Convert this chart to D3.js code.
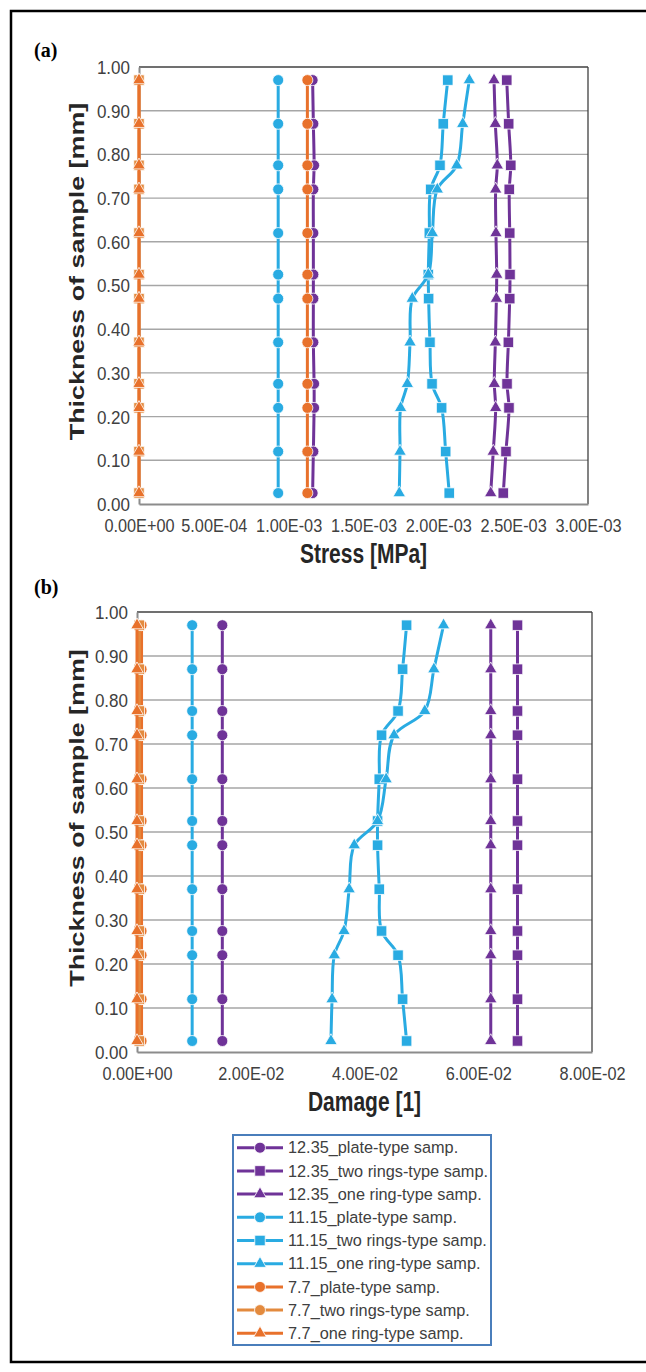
<!DOCTYPE html>
<html>
<head>
<meta charset="utf-8">
<script src="https://cdn.jsdelivr.net/npm/d3@7"></script>
<style>
  body { margin: 0; background: #fff; overflow: hidden; }
  svg { display: block; }
</style>
</head>
<body>
<svg id="fig" width="646" height="1372" font-family="'Liberation Sans', Arial, sans-serif"></svg>
<script>
// thickness levels [mm], bottom to top
const thickness = [0.025, 0.12, 0.22, 0.275, 0.37, 0.47, 0.525, 0.62, 0.72, 0.775, 0.87, 0.97];
const yTicks = [0, 0.1, 0.2, 0.3, 0.4, 0.5, 0.6, 0.7, 0.8, 0.9, 1.0];

const stressTicks = [0, 0.0005, 0.001, 0.0015, 0.002, 0.0025, 0.003];
const damageTicks = [0, 0.02, 0.04, 0.06, 0.08];

const seriesNames = [
  "12.35_plate-type samp.", "12.35_two rings-type samp.", "12.35_one ring-type samp.",
  "11.15_plate-type samp.", "11.15_two rings-type samp.", "11.15_one ring-type samp.",
  "7.7_plate-type samp.", "7.7_two rings-type samp.", "7.7_one ring-type samp."
];
const seriesColors = ["#6f3398", "#6f3398", "#6f3398", "#29abe2", "#29abe2", "#29abe2", "#e8712b", "#e38a3e", "#e8712b"];
const seriesShapes = ["circle", "square", "triangle", "circle", "square", "triangle", "circle", "square", "triangle"];
const legendShapes = ["circle", "square", "triangle", "circle", "square", "triangle", "circle", "circle", "triangle"];

// (a) stress [MPa]
const stress1235Plate = [1.16e-3, 1.165e-3, 1.17e-3, 1.17e-3, 1.165e-3, 1.165e-3, 1.165e-3, 1.165e-3, 1.165e-3, 1.17e-3, 1.165e-3, 1.16e-3];
const stress1235Two = [2.434e-3, 2.452e-3, 2.472e-3, 2.459e-3, 2.468e-3, 2.477e-3, 2.479e-3, 2.477e-3, 2.474e-3, 2.484e-3, 2.470e-3, 2.457e-3];
const stress1235One = [2.350e-3, 2.367e-3, 2.383e-3, 2.374e-3, 2.381e-3, 2.388e-3, 2.390e-3, 2.385e-3, 2.383e-3, 2.394e-3, 2.381e-3, 2.372e-3];
const stress1115Plate = [0.93e-3, 0.93e-3, 0.93e-3, 0.93e-3, 0.93e-3, 0.93e-3, 0.93e-3, 0.93e-3, 0.93e-3, 0.93e-3, 0.93e-3, 0.93e-3];
const stress1115Two = [2.073e-3, 2.049e-3, 2.022e-3, 1.958e-3, 1.944e-3, 1.935e-3, 1.933e-3, 1.940e-3, 1.949e-3, 2.011e-3, 2.033e-3, 2.063e-3];
const stress1115One = [1.739e-3, 1.744e-3, 1.748e-3, 1.793e-3, 1.811e-3, 1.826e-3, 1.933e-3, 1.960e-3, 1.993e-3, 2.123e-3, 2.163e-3, 2.207e-3];
const stress77Plate = [1.125e-3, 1.125e-3, 1.125e-3, 1.125e-3, 1.125e-3, 1.125e-3, 1.125e-3, 1.125e-3, 1.125e-3, 1.125e-3, 1.125e-3, 1.125e-3];
const stress77Two = [0, 0, 0, 0, 0, 0, 0, 0, 0, 0, 0, 0];
const stress77One = [0, 0, 0, 0, 0, 0, 0, 0, 0, 0, 0, 0];

// (b) damage [1]
const damage1235Plate = [0.0150, 0.0150, 0.0150, 0.0150, 0.0150, 0.0150, 0.0150, 0.0150, 0.0150, 0.0150, 0.0150, 0.0150];
const damage1235Two = [0.0669, 0.0669, 0.0669, 0.0669, 0.0669, 0.0669, 0.0669, 0.0669, 0.0669, 0.0669, 0.0669, 0.0669];
const damage1235One = [0.0622, 0.0622, 0.0622, 0.0622, 0.0622, 0.0622, 0.0622, 0.0622, 0.0622, 0.0622, 0.0622, 0.0622];
const damage1115Plate = [0.0097, 0.0097, 0.0097, 0.0097, 0.0097, 0.0097, 0.0097, 0.0097, 0.0097, 0.0097, 0.0097, 0.0097];
const damage1115Two = [0.0474, 0.0467, 0.0459, 0.0430, 0.0426, 0.0423, 0.0423, 0.0426, 0.0430, 0.0459, 0.0467, 0.0474];
const damage1115One = [0.0341, 0.0343, 0.0347, 0.0364, 0.0373, 0.0382, 0.0423, 0.0438, 0.0452, 0.0506, 0.0522, 0.0539];
const damage77Plate = [0.0008, 0.0008, 0.0008, 0.0008, 0.0008, 0.0008, 0.0008, 0.0008, 0.0008, 0.0008, 0.0008, 0.0008];
const damage77Two = [0.0004, 0.0004, 0.0004, 0.0004, 0.0004, 0.0004, 0.0004, 0.0004, 0.0004, 0.0004, 0.0004, 0.0004];
const damage77One = [0, 0, 0, 0, 0, 0, 0, 0, 0, 0, 0, 0];

const stressSeries = [stress1235Plate, stress1235Two, stress1235One, stress1115Plate, stress1115Two, stress1115One, stress77Plate, stress77Two, stress77One];
const damageSeries = [damage1235Plate, damage1235Two, damage1235One, damage1115Plate, damage1115Two, damage1115One, damage77Plate, damage77Two, damage77One];

const svg = d3.select("#fig");

const symbolType = { circle: d3.symbolCircle, square: d3.symbolSquare, triangle: d3.symbolTriangle };
const symbolSize = { circle: 95, square: 110, triangle: 68 };

// excel style exponent labels, e.g. 5.00E-04
function fmtE(d) {
  const parts = d.toExponential(2).split("e");
  const n = +parts[1];
  return parts[0] + "E" + (n < 0 ? "-" : "+") + String(Math.abs(n)).padStart(2, "0");
}

// outer frame of the figure (right side runs off the page)
svg.append("rect")
  .attr("x", 11).attr("y", 11)
  .attr("width", 700).attr("height", 1351)
  .attr("fill", "none").attr("stroke", "#000").attr("stroke-width", 2.5);

function drawPanel(p) {
  const x = d3.scaleLinear().domain([0, p.xMax]).range([p.left, p.right]);
  const y = d3.scaleLinear().domain([0, 1]).range([p.bottom, p.top]);
  const g = svg.append("g");

  // gridlines, top one is the plot border
  g.append("g").selectAll("line")
    .data(yTicks.slice(1))
    .join("line")
    .attr("x1", p.left).attr("x2", p.right)
    .attr("y1", d => y(d)).attr("y2", d => y(d))
    .attr("stroke", d => d === 1 ? "#404040" : "#a6a6a6")
    .attr("stroke-width", d => d === 1 ? 1.3 : 1.4);

  g.append("line")
    .attr("x1", p.right).attr("x2", p.right)
    .attr("y1", y(1)).attr("y2", y(0))
    .attr("stroke", "#404040").attr("stroke-width", 1.3);

  const ya = g.append("g")
    .attr("transform", `translate(${p.left},0)`)
    .call(d3.axisLeft(y).tickValues(yTicks).tickFormat(d3.format(".2f")).tickSize(0).tickSizeOuter(0).tickPadding(9));
  ya.select(".domain").attr("stroke", "#8c8c8c").attr("stroke-width", 2);
  ya.selectAll("text")
    .attr("font-size", 17).attr("fill", "#404040")
    .attr("dy", "0.35em").attr("transform", "scale(1,1.08)");

  const xa = g.append("g")
    .attr("transform", `translate(0,${p.bottom})`)
    .call(d3.axisBottom(x).tickValues(p.xTicks).tickFormat(fmtE).tickSize(0).tickSizeOuter(0));
  xa.select(".domain").attr("stroke", "#8c8c8c").attr("stroke-width", 2);
  xa.selectAll("text")
    .attr("font-size", 16.3).attr("fill", "#404040")
    .attr("y", null).attr("dy", "0.35em")
    .attr("transform", "translate(0,22) scale(1,1.1)");

  // axis titles
  g.append("text")
    .attr("transform", `translate(${(p.left + p.right) / 2},${p.bottom + 50}) scale(1,1.28)`)
    .attr("text-anchor", "middle").attr("dy", "0.35em")
    .attr("font-size", 21).attr("font-weight", "bold").attr("fill", "#262626")
    .text(p.xTitle);

  g.append("text")
    .attr("transform", `translate(77,${(p.top + p.bottom) / 2 - 14}) rotate(-90) scale(1.28,1)`)
    .attr("text-anchor", "middle").attr("dy", "0.35em")
    .attr("font-size", 21).attr("font-weight", "bold").attr("fill", "#262626")
    .text("Thickness of sample [mm]");

  g.append("text")
    .attr("x", 34).attr("y", p.labelY)
    .attr("dy", "0.35em")
    .style("font-family", "'Liberation Serif', 'Times New Roman', serif")
    .attr("font-size", 20).attr("font-weight", "bold").attr("fill", "#000")
    .text(p.label);

  const line = d3.line()
    .x(d => x(d[0]))
    .y(d => y(d[1]))
    .curve(d3.curveCatmullRom.alpha(0.5));

  p.values.forEach((vals, i) => {
    const pts = vals.map((v, j) => [v, thickness[j]]);
    const s = g.append("g");
    s.append("path")
      .attr("d", line(pts))
      .attr("fill", "none")
      .attr("stroke", seriesColors[i])
      .attr("stroke-width", 3);
    s.selectAll("path.mark")
      .data(pts)
      .join("path")
      .attr("class", "mark")
      .attr("transform", d => `translate(${x(d[0])},${y(d[1])})`)
      .attr("d", d3.symbol(symbolType[seriesShapes[i]], symbolSize[seriesShapes[i]]))
      .attr("fill", seriesColors[i])
      .attr("stroke", "#fff")
      .attr("stroke-width", 0.8);
  });
}

drawPanel({
  left: 139, right: 588, top: 67, bottom: 504,
  xMax: 0.003, xTicks: stressTicks, values: stressSeries,
  xTitle: "Stress [MPa]", label: "(a)", labelY: 50
});

drawPanel({
  left: 137, right: 592, top: 612, bottom: 1052,
  xMax: 0.08, xTicks: damageTicks, values: damageSeries,
  xTitle: "Damage [1]", label: "(b)", labelY: 587
});

// legend
const legend = svg.append("g");
legend.append("rect")
  .attr("x", 233).attr("y", 1135)
  .attr("width", 258).attr("height", 210)
  .attr("fill", "#fff").attr("stroke", "#4a7ebb").attr("stroke-width", 2);

const rows = legend.selectAll("g.row")
  .data(seriesNames)
  .join("g")
  .attr("class", "row")
  .attr("transform", (d, i) => `translate(0,${1147.7 + i * 23.2})`);

rows.append("line")
  .attr("x1", 237).attr("x2", 283)
  .attr("stroke", (d, i) => seriesColors[i])
  .attr("stroke-width", 3);

rows.append("path")
  .attr("transform", "translate(260,0)")
  .attr("d", (d, i) => d3.symbol(symbolType[legendShapes[i]], symbolSize[legendShapes[i]])())
  .attr("fill", (d, i) => seriesColors[i])
  .attr("stroke", "#fff")
  .attr("stroke-width", 0.8);

rows.append("text")
  .attr("x", 288).attr("dy", "0.35em")
  .attr("font-size", 16.3).attr("fill", "#404040")
  .text(d => d);
</script>
</body>
</html>
